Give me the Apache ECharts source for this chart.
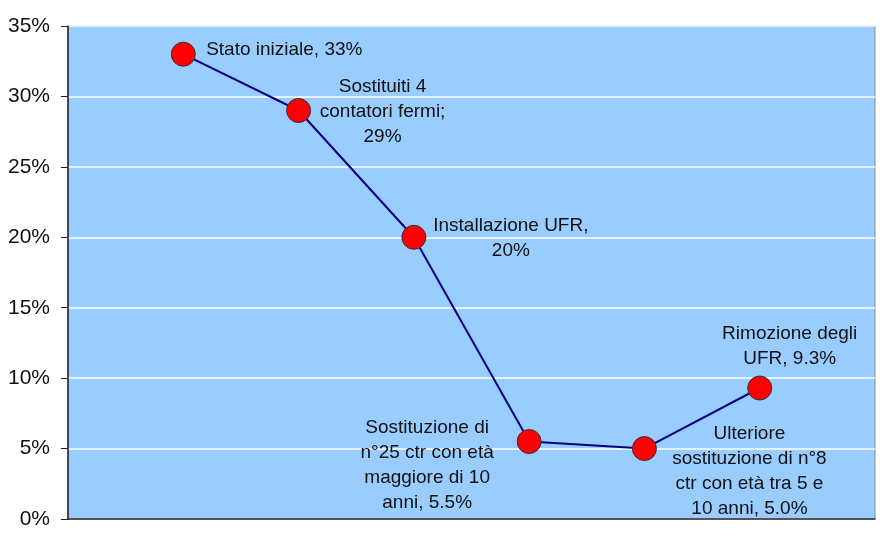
<!DOCTYPE html>
<html>
<head>
<meta charset="utf-8">
<script src="https://cdn.jsdelivr.net/npm/echarts@6/dist/echarts.min.js"></script>
<style>html,body{margin:0;padding:0;background:#fff}#c{width:883px;height:547px}</style>
</head>
<body>
<div id="c"></div>
<script>
const steps = [1, 2, 3, 4, 5, 6];
const values = [33, 29, 20, 5.5, 5.0, 9.3];
const labels = [
  'Stato iniziale, 33%',
  'Sostituiti 4\ncontatori fermi;\n29%',
  'Installazione UFR,\n20%',
  'Sostituzione di\nn°25 ctr con età\nmaggiore di 10\nanni, 5.5%',
  'Ulteriore\nsostituzione di n°8\nctr con età tra 5 e\n10 anni, 5.0%',
  'Rimozione degli\nUFR, 9.3%'
];
const yTicks = [0, 5, 10, 15, 20, 25, 30, 35];

const labelOffsets = [[101, -4], [84, 1], [97, 1], [-102, 24], [105, 23], [30, -42]];

const chart = echarts.init(document.getElementById('c'));
const data = steps.map((s, i) => ({
  value: [s, values[i]],
  label: { offset: labelOffsets[i], formatter: labels[i] }
}));

chart.setOption({
  animation: false,
  backgroundColor: '#ffffff',
  grid: {
    left: 68, right: 8, top: 26, bottom: 28,
    show: true, backgroundColor: '#99CCFF', borderColor: '#8c8c8c', borderWidth: 1
  },
  xAxis: {
    type: 'value', min: 0, max: 7,
    axisLine: { show: true, onZero: false, lineStyle: { color: '#222', width: 1.5 } },
    axisTick: { show: false }, axisLabel: { show: false }, splitLine: { show: false }
  },
  yAxis: {
    type: 'value', min: yTicks[0], max: yTicks[yTicks.length - 1], interval: 5,
    axisLine: { show: true, lineStyle: { color: '#222', width: 1.5 } },
    axisTick: { show: true, length: 7, lineStyle: { color: '#222' } },
    axisLabel: { formatter: '{value}%', fontFamily: 'Liberation Sans, Arial', fontSize: 21, color: '#111', margin: 18 },
    splitLine: { show: true, lineStyle: { color: '#ffffff', width: 1.5 } }
  },
  series: [{
    type: 'line',
    data: data,
    symbol: 'circle',
    symbolSize: 24,
    lineStyle: { color: '#000080', width: 2 },
    itemStyle: { color: '#FF0000', borderColor: '#333', borderWidth: 1 },
    label: {
      show: true, position: 'inside', align: 'center', verticalAlign: 'middle',
      fontFamily: 'Liberation Sans, Arial', fontSize: 19, lineHeight: 25, color: '#111'
    },
    z: 3
  }]
});
</script>
</body>
</html>
